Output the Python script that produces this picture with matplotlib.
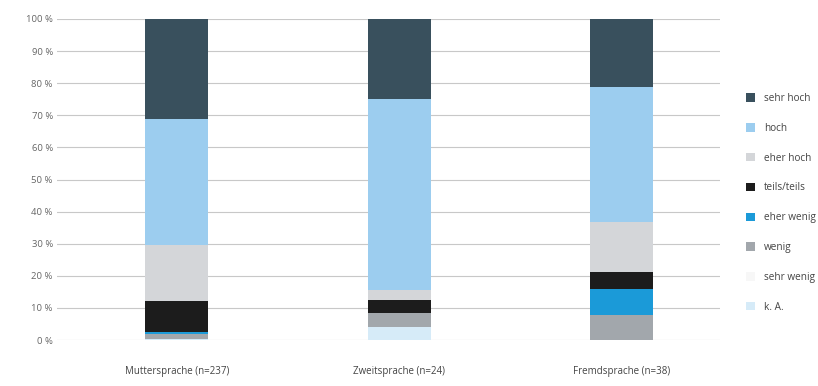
import numpy as np
import matplotlib
matplotlib.use("Agg")
import matplotlib.pyplot as plt
from matplotlib.patches import Patch

plt.rcParams['font.family'] = ['Open Sans', 'DejaVu Sans']

# Anteile in Prozent je Gruppe
groups = ['Muttersprache (n=237)', 'Zweitsprache (n=24)', 'Fremdsprache (n=38)']
categories = ['k. A.', 'sehr wenig', 'wenig', 'eher wenig',
              'teils/teils', 'eher hoch', 'hoch', 'sehr hoch']
k_a = [0.3, 4.2, 0.0]
sehr_wenig = [0.0, 0.0, 0.0]
wenig = [1.5, 4.2, 7.9]
eher_wenig = [0.6, 0.0, 7.9]
teils_teils = [9.9, 4.2, 5.3]
eher_hoch = [17.3, 2.9, 15.7]
hoch = [39.2, 59.5, 42.1]
sehr_hoch = [31.2, 25.0, 21.1]

series = [k_a, sehr_wenig, wenig, eher_wenig, teils_teils, eher_hoch, hoch, sehr_hoch]
colors = ['#d6ebf8', '#f7f7f7', '#a2a7ac', '#1b9ad8',
          '#1c1c1c', '#d4d6d9', '#9ccdef', '#39505d']

fig = plt.figure(figsize=(8.18, 3.86), dpi=100)
ax = fig.add_axes([57 / 818, 46 / 386, 663 / 818, 321 / 386])

x = np.arange(len(groups))
bottom = np.zeros(len(groups))
for vals, col in zip(series, colors):
    ax.bar(x, vals, width=0.284, bottom=bottom, color=col, edgecolor='none', zorder=3)
    bottom += np.array(vals)

ax.set_xlim(-0.54, 2.445)
ax.set_ylim(0, 100)
ax.set_yticks(np.arange(0, 101, 10))
ax.set_yticklabels([f'{v} %' for v in range(0, 101, 10)])
ax.set_xticks(x)
ax.set_xticklabels(groups)
ax.yaxis.grid(True, color='#c8c8c8', linewidth=0.8, zorder=0)
ax.tick_params(axis='y', length=0, pad=3, labelsize=6.8, labelcolor='#666666')
ax.tick_params(axis='x', length=0, pad=19, labelsize=7, labelcolor='#444444')
for s in ax.spines.values():
    s.set_visible(False)

handles = [Patch(facecolor=c, edgecolor='none') for c in colors][::-1]
labels = categories[::-1]
fig.legend(handles, labels, loc='upper left', bbox_to_anchor=(742 / 818, 1 - 89 / 386),
           frameon=False, fontsize=7.2, handlelength=0.9, handleheight=0.9,
           handletextpad=0.9, labelspacing=1.88, borderaxespad=0, labelcolor='#444444')

fig.savefig('out.png', dpi=100, facecolor='white')
